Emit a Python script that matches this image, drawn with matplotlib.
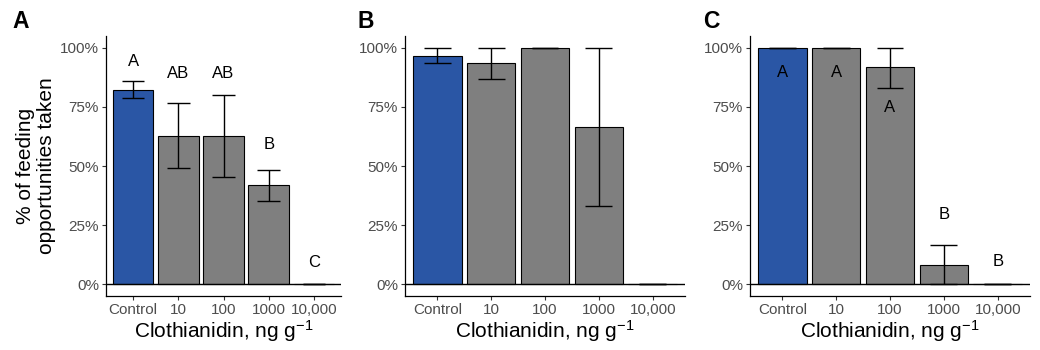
import matplotlib
matplotlib.use("Agg")
import matplotlib.pyplot as plt
import numpy as np

plt.rcParams['font.family'] = ['Liberation Sans', 'DejaVu Sans']
plt.rcParams['mathtext.fontset'] = 'custom'
plt.rcParams['mathtext.rm'] = 'Liberation Sans'
plt.rcParams['mathtext.it'] = 'Liberation Sans:italic'

categories = ["Control", "10", "100", "1000", "10,000"]

a_mean = [82.3, 62.7, 62.7, 41.9, 0.0]
a_low = [78.8, 49.0, 45.4, 35.3, 0.0]
a_high = [85.8, 76.5, 79.9, 48.2, 0.0]
a_letters = ["A", "AB", "AB", "B", "C"]
a_letter_y = [94.2, 89.3, 89.3, 59.2, 9.3]

b_mean = [96.6, 93.4, 100.0, 66.6, 0.0]
b_low = [93.4, 86.6, 100.0, 33.2, 0.0]
b_high = [100.0, 100.0, 100.0, 100.0, 0.0]

c_mean = [100.0, 100.0, 91.7, 8.3, 0.0]
c_low = [100.0, 100.0, 83.2, 0.0, 0.0]
c_high = [100.0, 100.0, 100.0, 16.6, 0.0]
c_letters = ["A", "A", "A", "B", "B"]
c_letter_y = [89.4, 89.4, 74.8, 29.3, 9.6]

yticks = [0, 25, 50, 75, 100]
ytick_labels = ["0%", "25%", "50%", "75%", "100%"]

blue = "#2A56A5"
gray = "#7F7F7F"
W, H = 1040, 350

fig = plt.figure(figsize=(W / 100, H / 100), dpi=100)

def make_ax(x0, x1, y_top=36, y_bot=296):
    return fig.add_axes([x0 / W, (H - y_bot) / H, (x1 - x0) / W, (y_bot - y_top) / H])

panels = [
    (make_ax(106, 341), a_mean, a_low, a_high, a_letters, a_letter_y, "A", True),
    (make_ax(405, 685), b_mean, b_low, b_high, None, None, "B", False),
    (make_ax(750, 1030), c_mean, c_low, c_high, c_letters, c_letter_y, "C", False),
]

for ax, mean, low, high, letters, ly, tag, ylab in panels:
    x = np.arange(len(categories))
    colors = [blue] + [gray] * (len(categories) - 1)
    ax.bar(x, mean, width=0.9, color=colors, edgecolor="black", linewidth=0.8, zorder=2)
    ax.axhline(0, color="black", linewidth=1.0, zorder=3)
    ax.vlines(x, low, high, color="black", linewidth=1.0, zorder=4)
    ax.hlines(low, x - 0.25, x + 0.25, color="black", linewidth=1.0, zorder=4)
    ax.hlines(high, x - 0.25, x + 0.25, color="black", linewidth=1.0, zorder=4)
    if letters is not None:
        for xi, t, yy in zip(x, letters, ly):
            ax.text(xi, yy, t, ha="center", va="center", fontsize=12, color="black", zorder=5)
    ax.set_xlim(-0.6, len(categories) - 0.4)
    ax.set_ylim(-5, 105)
    ax.set_yticks(yticks)
    ax.set_yticklabels(ytick_labels)
    ax.set_xticks(x)
    ax.set_xticklabels(categories)
    ax.tick_params(axis="both", colors="#333333", labelcolor="#4D4D4D", labelsize=11,
                   length=3, width=0.8, pad=2)
    for s in ["top", "right"]:
        ax.spines[s].set_visible(False)
    for s in ["left", "bottom"]:
        ax.spines[s].set_linewidth(0.9)
        ax.spines[s].set_color("black")
    ax.set_xlabel("Clothianidin, ng g$^{-1}$", fontsize=15, labelpad=1)
    if ylab:
        ax.set_ylabel("% of feeding\nopportunities taken", fontsize=15, labelpad=3, linespacing=1.1)

fig.text(21 / W, 1 - 21 / H, "A", fontsize=16.5, fontweight="bold", ha="center", va="center")
fig.text(366 / W, 1 - 21 / H, "B", fontsize=16.5, fontweight="bold", ha="center", va="center")
fig.text(711 / W, 1 - 21 / H, "C", fontsize=16.5, fontweight="bold", ha="center", va="center")

fig.savefig("out.png", dpi=100)
